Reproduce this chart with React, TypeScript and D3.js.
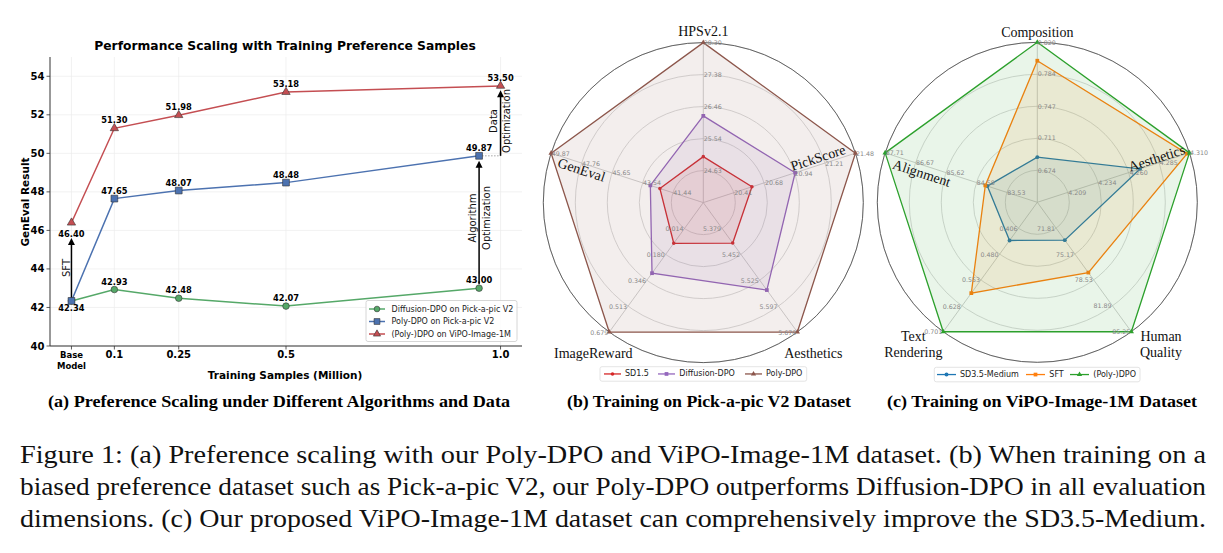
import React from "react";
import * as d3 from "d3";

// ---------- panel (a): preference scaling ----------
const sampleTicks = [0, 0.1, 0.25, 0.5, 1.0];
const sampleTickLabels = [["Base", "Model"], ["0.1"], ["0.25"], ["0.5"], ["1.0"]];
const genevalTicks = [40, 42, 44, 46, 48, 50, 52, 54];

const diffusionX = [0, 0.1, 0.25, 0.5, 0.95];
const diffusionY = [42.34, 42.93, 42.48, 42.07, 43.0];
const polyX = [0, 0.1, 0.25, 0.5, 0.95];
const polyY = [42.34, 47.65, 48.07, 48.48, 49.87];
const vipoX = [0, 0.1, 0.25, 0.5, 1.0];
const vipoY = [46.4, 51.3, 51.98, 53.18, 53.5];
const lineNames = ["Diffusion-DPO on Pick-a-pic V2", "Poly-DPO on Pick-a-pic V2", "(Poly-)DPO on ViPO-Image-1M"];

// arrows: [x, from, to]
const sftArrow = [0, 42.34, 45.6];
const algoArrow = [0.95, 43.0, 49.62];
const dataArrow = [1.0, 49.87, 53.28];

// ---------- panel (b): Pick-a-pic V2 ----------
const pickAxes = ["HPSv2.1", "PickScore", "Aesthetics", "ImageReward", "GenEval"];
const pickTicks = [
  ["24.63", "25.54", "26.46", "27.38", "28.30"],
  ["20.41", "20.68", "20.94", "21.21", "21.48"],
  ["5.379", "5.452", "5.525", "5.597", "5.670"],
  ["0.014", "0.180", "0.346", "0.513", "0.679"],
  ["41.44", "43.54", "45.65", "47.76", "49.87"],
];
const sd15 = [25.03, 20.57, 5.42, 0.109, 42.34];
const diffusionDpo = [26.2, 20.95, 5.552, 0.301, 43.0];
const polyDpo = [28.3, 21.48, 5.67, 0.679, 49.87];

// ---------- panel (c): ViPO-Image-1M ----------
const vipoAxes = ["Composition", "Aesthetics", "Human\nQuality", "Text\nRendering", "Alignment"];
const vipoTicks = [
  ["0.674", "0.711", "0.747", "0.784", "0.820"],
  ["4.209", "4.234", "4.260", "4.285", "4.310"],
  ["71.81", "75.17", "78.53", "81.89", "85.25"],
  ["0.406", "0.480", "0.553", "0.628", "0.701"],
  ["83.53", "84.58", "85.62", "86.67", "87.71"],
];
const sd35Medium = [0.689, 4.269, 73.36, 0.441, 84.2];
const sftModel = [0.799, 4.308, 77.57, 0.591, 84.27];
const polyDpoVipo = [0.82, 4.31, 85.25, 0.701, 87.71];

const SANS = "DejaVu Sans";
const SERIF = "'Liberation Serif', 'Times New Roman', Times, serif";

function sym(kind: string, area: number) {
  const t = kind === "square" ? d3.symbolSquare : kind === "triangle" ? d3.symbolTriangle : d3.symbolCircle;
  return d3.symbol().type(t).size(area)() as string;
}

function Arrow({ x, y1, y2 }: { x: number; y1: number; y2: number }) {
  return (
    <g>
      <line x1={x} x2={x} y1={y1} y2={y2 + 6} stroke="#000" strokeWidth={1.5} />
      <path d={`M${x - 3.5},${y2 + 7} L${x},${y2} L${x + 3.5},${y2 + 7} Z`} fill="#000" />
    </g>
  );
}

function RotText({ x, y, children, size = 10 }: any) {
  return (
    <text transform={`translate(${x},${y}) rotate(-90)`} textAnchor="middle" dominantBaseline="central"
      fontFamily={SANS} fontSize={size} fill="#111">{children}</text>
  );
}

function ScalingChart() {
  const x = d3.scaleLinear().domain([-0.05, 1.05]).range([50, 522]);
  const y = d3.scaleLinear().domain([40, 55]).range([346, 57]);
  const line = d3.line<number>();
  const series = [
    { xs: diffusionX, ys: diffusionY, color: "#55a868", marker: "circle", area: 34 },
    { xs: polyX, ys: polyY, color: "#4c72b0", marker: "square", area: 46 },
    { xs: vipoX, ys: vipoY, color: "#c44e52", marker: "triangle", area: 30 },
  ];
  const labelOffset = (si: number, i: number) => {
    if (si === 1 && i === 0) return 10;
    if (si === 2 && i === 0) return 14;
    if (si === 0 && i === 0) return null;
    return -5;
  };
  return (
    <g>
      <text x={285} y={50} textAnchor="middle" fontFamily={SANS} fontWeight="bold" fontSize={12.3}>
        Performance Scaling with Training Preference Samples
      </text>
      {genevalTicks.map((t) => (
        <line key={"gy" + t} x1={50} x2={522} y1={y(t)} y2={y(t)} stroke="#ececec" strokeWidth={0.7} />
      ))}
      {sampleTicks.map((t) => (
        <line key={"gx" + t} x1={x(t)} x2={x(t)} y1={57} y2={346} stroke="#ececec" strokeWidth={0.7} />
      ))}
      <line x1={50} x2={50} y1={57} y2={346} stroke="#333" strokeWidth={1} />
      <line x1={50} x2={522} y1={346} y2={346} stroke="#333" strokeWidth={1} />
      {genevalTicks.map((t) => (
        <g key={"yt" + t}>
          <line x1={46.5} x2={50} y1={y(t)} y2={y(t)} stroke="#333" strokeWidth={0.8} />
          <text x={44.5} y={y(t)} textAnchor="end" dominantBaseline="central" fontFamily={SANS}
            fontWeight="bold" fontSize={10}>{t}</text>
        </g>
      ))}
      {sampleTicks.map((t, i) => (
        <g key={"xt" + t}>
          <line x1={x(t)} x2={x(t)} y1={346} y2={349.5} stroke="#333" strokeWidth={0.8} />
          {sampleTickLabels[i].map((s, j) => (
            <text key={j} x={x(t)} y={358 + j * 10.5} textAnchor="middle" fontFamily={SANS}
              fontWeight="bold" fontSize={i === 0 ? 8.5 : 10}>{s}</text>
          ))}
        </g>
      ))}
      <text x={285} y={379} textAnchor="middle" fontFamily={SANS} fontWeight="bold" fontSize={10.5}>
        Training Samples (Million)
      </text>
      <text transform={`translate(25,202) rotate(-90)`} textAnchor="middle" dominantBaseline="central"
        fontFamily={SANS} fontWeight="bold" fontSize={10.5}>GenEval Result</text>

      {/* annotations */}
      <line x1={x(polyX[4])} x2={x(dataArrow[0])} y1={y(polyY[4])} y2={y(polyY[4])} stroke="#999"
        strokeWidth={0.9} strokeDasharray="1.5,1.5" />
      <Arrow x={x(sftArrow[0])} y1={y(sftArrow[1])} y2={y(sftArrow[2])} />
      <Arrow x={x(algoArrow[0])} y1={y(algoArrow[1]) - 4} y2={y(algoArrow[2])} />
      <Arrow x={x(dataArrow[0])} y1={y(dataArrow[1])} y2={y(dataArrow[2])} />
      <RotText x={x(sftArrow[0]) - 5} y={268}>SFT</RotText>
      <RotText x={x(algoArrow[0]) - 7} y={218}>Algorithm</RotText>
      <RotText x={x(algoArrow[0]) + 7} y={218}>Optimization</RotText>
      <RotText x={x(dataArrow[0]) - 7} y={121}>Data</RotText>
      <RotText x={x(dataArrow[0]) + 5.5} y={121}>Optimization</RotText>

      {series.map((s, si) => (
        <g key={si}>
          <path d={line.x((_, i) => x(s.xs[i])).y((v) => y(v))(s.ys) as string} fill="none" stroke={s.color}
            strokeWidth={1.5} />
          {s.ys.map((v, i) => (
            <path key={i} d={sym(s.marker, s.area)} transform={`translate(${x(s.xs[i])},${y(v)})`}
              fill={s.color} stroke="#333" strokeWidth={0.6} />
          ))}
          {s.ys.map((v, i) => {
            const off = labelOffset(si, i);
            if (off === null) return null;
            return (
              <text key={"l" + i} x={x(s.xs[i])} y={y(v) + off} textAnchor="middle"
                fontFamily={SANS} fontWeight="bold" fontSize={8.3}>{v.toFixed(2)}</text>
            );
          })}
        </g>
      ))}

      {/* legend */}
      <rect x={366} y={300.5} width={151} height={41} rx={2} fill="#fff" fillOpacity={0.85} stroke="#ccc"
        strokeWidth={0.8} />
      {series.map((s, si) => (
        <g key={"lg" + si} transform={`translate(0,${309 + si * 12.5})`}>
          <line x1={369} x2={385} y1={0} y2={0} stroke={s.color} strokeWidth={1.5} />
          <path d={sym(s.marker, s.area * 0.75)} transform="translate(377,0)" fill={s.color} stroke="#333"
            strokeWidth={0.6} />
          <text x={391.5} y={0} dominantBaseline="central" fontFamily={SANS} fontSize={8} fill="#222">
            {lineNames[si]}
          </text>
        </g>
      ))}
    </g>
  );
}

type RSeries = { name: string; color: string; values: number[]; marker: string; area: number };

function Radar({ cx, cy, R, axes, ticks, series, labelPos, legend }: any) {
  const n = axes.length;
  const ang = (i: number) => (i * 2 * Math.PI) / n;
  const pt = (i: number, r: number): [number, number] => [cx + r * Math.sin(ang(i)), cy - r * Math.cos(ang(i))];
  const scales = ticks.map((t: string[]) => {
    const v = t.map(Number);
    const step = (v[4] - v[0]) / 4;
    return d3.scaleLinear().domain([v[0] - step, v[4]]).range([0, R]);
  });
  const ringR = d3.range(1, 6).map((k) => (k / 5) * R);
  const poly = d3.line().curve(d3.curveLinearClosed);
  return (
    <g>
      {ringR.map((r) => (
        <circle key={r} cx={cx} cy={cy} r={r} fill="none" stroke="#cfcfcf" strokeWidth={0.8} />
      ))}
      <circle cx={cx} cy={cy} r={R} fill="none" stroke="#555" strokeWidth={0.9} />
      {axes.map((_: string, i: number) => {
        const [x2, y2] = pt(i, R);
        return <line key={i} x1={cx} y1={cy} x2={x2} y2={y2} stroke="#c4c4c4" strokeWidth={0.8} />;
      })}
      {series.map((s: RSeries) => {
        const pts = s.values.map((v, i) => pt(i, scales[i](v)));
        return (
          <g key={s.name}>
            <path d={poly(pts) as string} fill={s.color} fillOpacity={0.1} stroke={s.color} strokeWidth={1.3} />
            {pts.map((p, i) => (
              <path key={i} d={sym(s.marker, s.area)} transform={`translate(${p[0]},${p[1]})`} fill={s.color} />
            ))}
          </g>
        );
      })}
      {ticks.map((t: string[], i: number) =>
        t.map((lab) => {
          const [px, py] = pt(i, scales[i](Number(lab)));
          const lower = i === 2 || i === 3;
          return (
            <text key={i + lab} x={px + (lower ? -1 : 0.5)} y={py} textAnchor={lower ? "end" : "start"}
              dominantBaseline="central" fontFamily={SANS} fontSize={6.3} fill="#888">{lab}</text>
          );
        })
      )}
      {axes.map((a: string, i: number) => {
        const lp = labelPos[i];
        const lines = a.split("\n");
        return (
          <text key={"ax" + i} transform={`translate(${cx + lp[0]},${cy + lp[1]}) rotate(${lp[2]})`}
            textAnchor="middle" fontFamily={SERIF} fontSize={14} fill="#111">
            {lines.map((s, j) => (
              <tspan key={j} x={0} y={(j - (lines.length - 1) / 2) * 16} dominantBaseline="central">{s}</tspan>
            ))}
          </text>
        );
      })}
      <rect x={legend.x} y={legend.y} width={legend.w} height={14.5} rx={2} fill="#fff" stroke="#ddd"
        strokeWidth={0.8} />
      {series.map((s: RSeries, k: number) => {
        const it = legend.items[k];
        const ly = legend.y + 7.25;
        return (
          <g key={"lg" + k}>
            <line x1={it[0]} x2={it[1]} y1={ly} y2={ly} stroke={s.color} strokeWidth={1.3} />
            <path d={sym(s.marker, s.area)} transform={`translate(${(it[0] + it[1]) / 2},${ly})`} fill={s.color} />
            <text x={it[2]} y={ly} dominantBaseline="central" fontFamily={SANS} fontSize={8} fill="#222">
              {s.name}
            </text>
          </g>
        );
      })}
    </g>
  );
}

const captionLines = [
  "Figure 1: (a) Preference scaling with our Poly-DPO and ViPO-Image-1M dataset. (b) When training on a",
  "biased preference dataset such as Pick-a-pic V2, our Poly-DPO outperforms Diffusion-DPO in all evaluation",
  "dimensions. (c) Our proposed ViPO-Image-1M dataset can comprehensively improve the SD3.5-Medium.",
];

export default function App() {
  const pickSeries: RSeries[] = [
    { name: "SD1.5", color: "#d62728", values: sd15, marker: "circle", area: 10 },
    { name: "Diffusion-DPO", color: "#9467bd", values: diffusionDpo, marker: "square", area: 14 },
    { name: "Poly-DPO", color: "#8c564b", values: polyDpo, marker: "triangle", area: 12 },
  ];
  const vipoSeries: RSeries[] = [
    { name: "SD3.5-Medium", color: "#1f77b4", values: sd35Medium, marker: "circle", area: 12 },
    { name: "SFT", color: "#ff7f0e", values: sftModel, marker: "square", area: 14 },
    { name: "(Poly-)DPO", color: "#2ca02c", values: polyDpoVipo, marker: "triangle", area: 12 },
  ];
  return (
    <svg width={1223} height={553} style={{ position: "absolute", left: 0, top: 0, background: "#fff" }}>
      <ScalingChart />
      <Radar cx={703.3} cy={202.6} R={160} axes={pickAxes} ticks={pickTicks} series={pickSeries}
        labelPos={[[0, -171, 0], [114.7, -44.6, -18], [110, 150.7, 0], [-110, 150.7, 0], [-121.8, -32.6, 18]]}
        legend={{ x: 600, y: 366.7, w: 206.7, items: [[604, 621, 625], [658, 675, 679.3], [745, 762, 766]] }} />
      <Radar cx={1037.3} cy={202.3} R={160} axes={vipoAxes} ticks={vipoTicks} series={vipoSeries}
        labelPos={[[0, -170.3, 0], [119.4, -44, -18], [123.7, 142.4, 0], [-124, 142.4, 0], [-115.6, -29, 18]]}
        legend={{ x: 934.3, y: 367.3, w: 205.7, items: [[937, 956, 960], [1026, 1045, 1049.3], [1070, 1089, 1093.3]] }} />

      <text x={279} y={407} textAnchor="middle" fontFamily={SERIF} fontWeight="bold" fontSize={16.5}
        textLength={462} lengthAdjust="spacingAndGlyphs">(a) Preference Scaling under Different Algorithms and Data</text>
      <text x={709} y={407} textAnchor="middle" fontFamily={SERIF} fontWeight="bold" fontSize={16.5}
        textLength={284} lengthAdjust="spacingAndGlyphs">(b) Training on Pick-a-pic V2 Dataset</text>
      <text x={1042} y={407} textAnchor="middle" fontFamily={SERIF} fontWeight="bold" fontSize={16.5}
        textLength={310} lengthAdjust="spacingAndGlyphs">(c) Training on ViPO-Image-1M Dataset</text>
      {captionLines.map((s, i) => (
        <text key={i} x={20} y={463 + i * 32} fontFamily={SERIF} fontSize={25.5} fill="#111"
          textLength={1186} lengthAdjust="spacingAndGlyphs">{s}</text>
      ))}
    </svg>
  );
}
